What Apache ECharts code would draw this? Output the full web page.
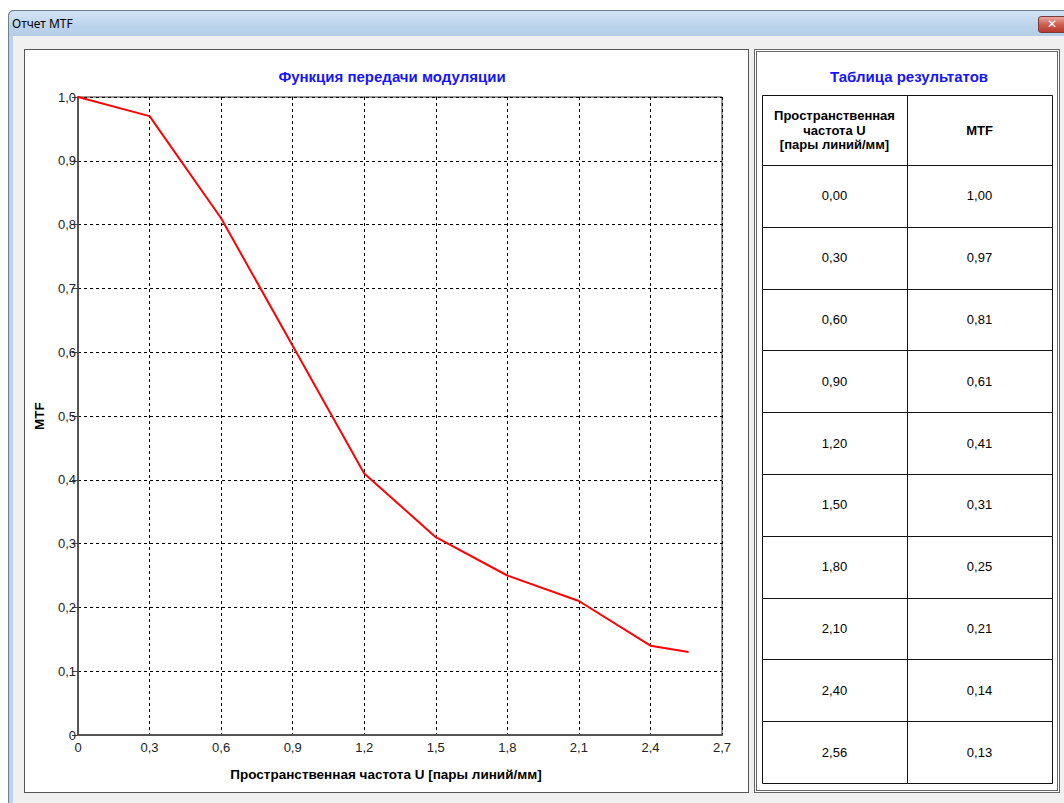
<!DOCTYPE html>
<html><head><meta charset="utf-8">
<script src="https://cdn.jsdelivr.net/npm/echarts@6/dist/echarts.min.js"></script>
<style>
html,body{margin:0;padding:0;width:1064px;height:803px;overflow:hidden;background:#fff;}
#win{position:absolute;left:8px;top:10px;width:1100px;height:900px;border:1px solid #6f7f92;border-radius:6px 6px 0 0;background:#bcd3eb;box-sizing:border-box;}
#tbar{position:absolute;left:8px;top:10px;width:1100px;height:26px;border-radius:6px 6px 0 0;background:linear-gradient(#d3e3f4,#bcd3ec 60%,#b6cde8);border:1px solid #6f7f92;border-bottom:none;box-sizing:border-box;}
#ttl{position:absolute;left:12px;top:15px;font:12px "Noto Sans","Open Sans",sans-serif;color:#000;}
#client{position:absolute;left:13px;top:36px;width:1100px;height:800px;background:#f0f0f0;}
#close{position:absolute;left:1038px;top:16px;width:30px;height:17px;border:1px solid #7a3b36;border-radius:3px;background:linear-gradient(#e8a8a0,#cc5e52 50%,#b93a2f);box-sizing:border-box;color:#fff;font:bold 12px "DejaVu Sans",sans-serif;line-height:15px;padding-left:8px;}
#p1{position:absolute;left:24px;top:49px;width:725px;height:744px;border:1px solid #555;background:#fff;box-sizing:border-box;}
#p2{position:absolute;left:754px;top:49px;width:306px;height:744px;border:3px double #666;background:#fff;box-sizing:border-box;}
#chart{position:absolute;left:0;top:0;width:1064px;height:803px;}
</style></head><body>
<div id="win"></div>
<div id="client"></div>
<div id="tbar"></div>
<div id="ttl">Отчет MTF</div>
<div id="close">✕</div>
<div id="p1"></div>
<div id="p2"></div>
<div id="chart"></div>
<script>
const freq = [0, 0.3, 0.6, 0.9, 1.2, 1.5, 1.8, 2.1, 2.4, 2.56];
const mtf = [1.00, 0.97, 0.81, 0.61, 0.41, 0.31, 0.25, 0.21, 0.14, 0.13];
const chartTitle = 'Функция передачи модуляции';
const tableTitle = 'Таблица результатов';
const xName = 'Пространственная частота U [пары линий/мм]';
const yName = 'MTF';
const headerCols = ['Пространственная\nчастота U\n[пары линий/мм]', 'MTF'];

const fmt = (v, d) => v.toFixed(d).replace('.', ',');
const FONT = '"Liberation Sans", Arial, sans-serif';

// table geometry
const tX = [762, 907, 1052];
const tTop = 95, hH = 70, rowH = 61.8;
const graphics = [];
function cell(x0, x1, y0, y1) {
  graphics.push({type:'rect', silent:true, shape:{x:Math.round(x0)+0.5, y:Math.round(y0)+0.5, width:Math.round(x1)-Math.round(x0), height:Math.round(y1)-Math.round(y0)}, style:{fill:'#fff', stroke:'#111', lineWidth:1}});
}
function txt(t, x, y, bold) {
  graphics.push({type:'text', silent:true, style:{text:t, x:x, y:y, align:'center', verticalAlign:'middle', font:(bold?'bold 13px ':'13px ')+FONT, fill:'#000', lineHeight:14.5}});
}
for (let c = 0; c < 2; c++) {
  cell(tX[c], tX[c+1], tTop, tTop + hH);
  txt(headerCols[c], (tX[c]+tX[c+1])/2, tTop + hH/2, true);
}
freq.forEach((f, i) => {
  const y0 = tTop + hH + i*rowH, y1 = y0 + rowH;
  const vals = [fmt(f, 2), fmt(mtf[i], 2)];
  for (let c = 0; c < 2; c++) {
    cell(tX[c], tX[c+1], y0, y1);
    txt(vals[c], (tX[c]+tX[c+1])/2, (y0+y1)/2, false);
  }
});

const chart = echarts.init(document.getElementById('chart'), null, {renderer:'svg'});
chart.setOption({
  animation:false,
  backgroundColor:'transparent',
  title:[
    {text:chartTitle, left:387, top:64, textAlign:'center', textStyle:{color:'#1414ff', fontSize:15, fontWeight:'bold', fontFamily:FONT}},
    {text:tableTitle, left:904, top:64, textAlign:'center', textStyle:{color:'#1414ff', fontSize:15, fontWeight:'bold', fontFamily:FONT}}
  ],
  grid:{left:78, right:342, top:97, bottom:68, show:true, borderColor:'#333', borderWidth:1, backgroundColor:'#fff'},
  xAxis:{type:'value', min:0, max:2.7, interval:0.3,
    name:xName, nameLocation:'middle', nameGap:32,
    nameTextStyle:{fontSize:13.5, fontWeight:'bold', color:'#000', fontFamily:FONT, padding:[0, 28, 0, 0]},
    axisLine:{show:true, lineStyle:{color:'#555', width:2}},
    axisTick:{show:false},
    axisLabel:{color:'#222', fontSize:13, fontFamily:FONT, margin:6, formatter:v => v === 0 ? '0' : fmt(v, 1)},
    splitLine:{show:true, lineStyle:{color:'#000', type:[3,3], width:1}}
  },
  yAxis:{type:'value', min:0, max:1, interval:0.1,
    name:yName, nameLocation:'middle', nameGap:32, nameRotate:90,
    nameTextStyle:{fontSize:13.5, fontWeight:'bold', color:'#000', fontFamily:FONT},
    axisLine:{show:true, lineStyle:{color:'#555', width:2}},
    axisTick:{show:true, length:6, lineStyle:{color:'#444'}},
    axisLabel:{color:'#222', fontSize:13, fontFamily:FONT, margin:2, formatter:v => v === 0 ? '0' : fmt(v, 1)},
    splitLine:{show:true, lineStyle:{color:'#000', type:[3,3], width:1}}
  },
  series:[{type:'line', data:freq.map((f,i)=>[f, mtf[i]]), showSymbol:false, symbol:'none',
    lineStyle:{color:'#ff0000', width:2}, itemStyle:{color:'#ff0000'}}],
  graphic:graphics
});
</script>
</body></html>
